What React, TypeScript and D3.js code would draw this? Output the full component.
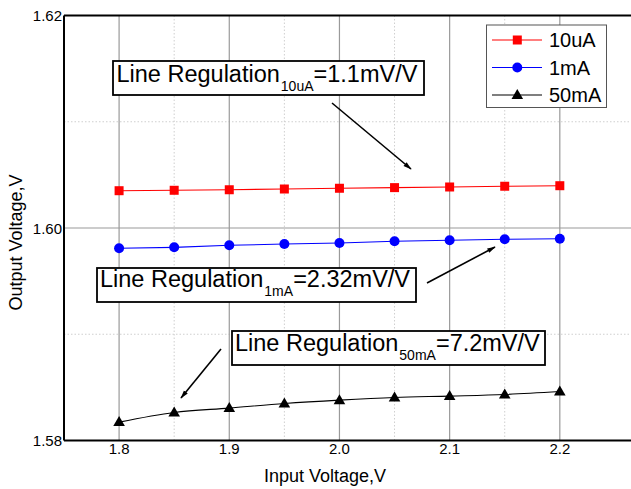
import React from "react";
import * as d3 from "d3";

// Input voltage sweep (V)
const inputVoltage = [1.8, 1.85, 1.9, 1.95, 2.0, 2.05, 2.1, 2.15, 2.2];

// Output voltage (V) for each load current
const out10uA = [1.60351, 1.60355, 1.6036, 1.60367, 1.60374, 1.6038, 1.60386, 1.60393, 1.60398];
const out1mA = [1.59809, 1.59818, 1.59837, 1.59849, 1.59859, 1.59875, 1.59884, 1.59894, 1.59899];
const out50mA = [1.58173, 1.58264, 1.58305, 1.58348, 1.5838, 1.58405, 1.58418, 1.58433, 1.58461];

const seriesNames = ["10uA", "1mA", "50mA"];
const xMajorTicks = [1.8, 1.9, 2.0, 2.1, 2.2];
const xMinorTicks = [1.85, 1.95, 2.05, 2.15];
const yMajorTicks = [1.58, 1.6, 1.62];
const yMinorTicks = [1.59, 1.61];

const W = 631;
const H = 489;
const FONT = "'Liberation Sans', Arial, sans-serif";

export default function App() {
  const x = d3.scaleLinear().domain([1.75, 2.3]).range([64, 670]);
  const y = d3.scaleLinear().domain([1.58, 1.62]).range([440.5, 15.5]);

  const series = [
    { name: seriesNames[0], values: out10uA, color: "#ff0000", marker: "square", curve: d3.curveLinear },
    { name: seriesNames[1], values: out1mA, color: "#0000ff", marker: "circle", curve: d3.curveLinear },
    { name: seriesNames[2], values: out50mA, color: "#000000", marker: "triangle", curve: d3.curveMonotoneX },
  ];

  const marker = (kind: string, cx: number, cy: number, color: string, key: string | number) => {
    if (kind === "square") return <rect key={key} x={cx - 4.5} y={cy - 4.5} width={9} height={9} fill={color} />;
    if (kind === "circle") return <circle key={key} cx={cx} cy={cy} r={5} fill={color} />;
    return <path key={key} d={`M${cx},${cy - 6}L${cx + 5.8},${cy + 4}L${cx - 5.8},${cy + 4}Z`} fill={color} />;
  };

  const xLeft = x.range()[0];
  const xRight = x.range()[1];
  const yTop = y.range()[1];
  const yBottom = y.range()[0];

  const annotations = [
    { box: [113, 61, 311, 34], tx: 116.5, ty: 82, sub: "10uA", val: "=1.1mV/V", arrow: [332, 103, 411, 169] },
    { box: [97, 268, 319, 34], tx: 100, ty: 287, sub: "1mA", val: "=2.32mV/V", arrow: [427, 283, 495, 247] },
    { box: [232, 331, 313, 34], tx: 235, ty: 351, sub: "50mA", val: "=7.2mV/V", arrow: [221, 349, 181, 398] },
  ];

  return (
    <svg
      width={W}
      height={H}
      style={{ position: "absolute", left: 0, top: 0, background: "#fff" }}
      fontFamily={FONT}
    >
      <defs>
        <marker id="arrowHead" viewBox="0 0 12 10" refX="11" refY="5" markerWidth="9" markerHeight="7" orient="auto" markerUnits="userSpaceOnUse">
          <path d="M0,1.5L12,5L0,8.5Z" fill="#000" />
        </marker>
        <clipPath id="plotClip">
          <rect x={xLeft} y={yTop} width={xRight - xLeft} height={yBottom - yTop} />
        </clipPath>
      </defs>
      <rect width={W} height={H} fill="#fff" />

      {/* grid */}
      {xMinorTicks.map((t) => (
        <line key={"xm" + t} x1={x(t)} x2={x(t)} y1={yTop} y2={yBottom} stroke="#cfcfcf" strokeWidth={1} strokeDasharray="1.5,2" />
      ))}
      {yMinorTicks.map((t) => (
        <line key={"ym" + t} x1={xLeft} x2={xRight} y1={y(t)} y2={y(t)} stroke="#cfcfcf" strokeWidth={1} strokeDasharray="1.5,2" />
      ))}
      {xMajorTicks.map((t) => (
        <line key={"xM" + t} x1={x(t)} x2={x(t)} y1={yTop} y2={yBottom} stroke="#9a9a9a" strokeWidth={1.2} />
      ))}
      <line x1={xLeft} x2={xRight} y1={y(1.6)} y2={y(1.6)} stroke="#9a9a9a" strokeWidth={1.2} />

      {/* series */}
      <g clipPath="url(#plotClip)">
        {series.map((s) => {
          const pts = inputVoltage.map((v, i) => [x(v), y(s.values[i])] as [number, number]);
          const path = d3.line().curve(s.curve)(pts) || "";
          return (
            <g key={s.name}>
              <path d={path} fill="none" stroke={s.color} strokeWidth={1.1} />
              {pts.map((p, i) => marker(s.marker, p[0], p[1], s.color, i))}
            </g>
          );
        })}
      </g>

      {/* frame */}
      <line x1={xLeft} x2={xRight} y1={yTop} y2={yTop} stroke="#000" strokeWidth={2} />
      <line x1={xLeft} x2={xRight} y1={yBottom} y2={yBottom} stroke="#000" strokeWidth={2} />
      <line x1={xLeft} x2={xLeft} y1={yTop} y2={yBottom} stroke="#000" strokeWidth={2} />

      {/* tick labels */}
      {xMajorTicks.map((t) => (
        <text key={"xl" + t} x={x(t)} y={454} fontSize={15} textAnchor="middle" fill="#000">
          {d3.format(".1f")(t)}
        </text>
      ))}
      {yMajorTicks.map((t) => (
        <text key={"yl" + t} x={62} y={y(t) + 5.5} fontSize={15} textAnchor="end" fill="#000">
          {d3.format(".2f")(t)}
        </text>
      ))}

      {/* axis titles */}
      <text x={325} y={481.5} fontSize={18} textAnchor="middle" fill="#000">Input Voltage,V</text>
      <text transform="translate(21.5,242.5) rotate(-90)" fontSize={18} textAnchor="middle" fill="#000">Output Voltage,V</text>

      {/* legend */}
      <rect x={486.5} y={25} width={120} height={82.5} fill="#fff" stroke="#555" strokeWidth={1} />
      {series.map((s, i) => {
        const ly = 40 + i * 27.5;
        return (
          <g key={"lg" + s.name}>
            <line x1={492} x2={542} y1={ly} y2={ly} stroke={s.color} strokeWidth={1.1} />
            {marker(s.marker, 517.3, ly, s.color, "m")}
            <text x={549} y={ly + 7} fontSize={20} fill="#000">{s.name}</text>
          </g>
        );
      })}

      {/* annotations */}
      {annotations.map((a, i) => (
        <g key={"an" + i}>
          <line x1={a.arrow[0]} y1={a.arrow[1]} x2={a.arrow[2]} y2={a.arrow[3]} stroke="#000" strokeWidth={1.6} markerEnd="url(#arrowHead)" />
          <rect x={a.box[0]} y={a.box[1]} width={a.box[2]} height={a.box[3]} fill="#fff" stroke="#000" strokeWidth={1.8} />
          <text x={a.tx} y={a.ty} fontSize={23.5} fill="#000">
            Line Regulation
            <tspan fontSize={14} dx={1} dy={9}>{a.sub}</tspan>
            <tspan fontSize={23.5} dy={-9}>{a.val}</tspan>
          </text>
        </g>
      ))}
    </svg>
  );
}
